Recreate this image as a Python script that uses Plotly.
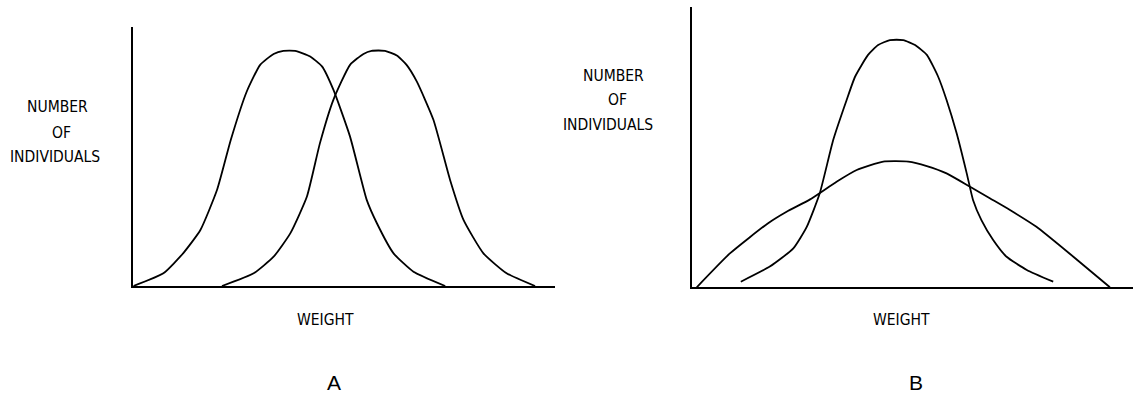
import plotly.graph_objects as go

W, H = 1133, 393

# Panel A: two shifted normal-like curves (weight units 0-100, count units 0-100)
a1_x = [0, 7.4, 12.3, 16.5, 20.6, 24.0, 27.9, 31.2, 34.5, 36.9, 39.8, 43.5, 46.4, 49.2, 53.3, 57.4, 59.9, 64.0, 68.9, 76.7]
a1_y = [0, 4.9, 12.7, 21.6, 37.1, 56.5, 75.0, 85.3, 89.5, 90.7, 90.7, 88.5, 84.7, 75.7, 57.6, 33.2, 24.2, 12.6, 5.5, 0]
a2_x = [21.8, 29.6, 34.5, 38.6, 42.7, 45.9, 49.2, 53.3, 56.6, 58.6, 61.9, 64.8, 67.2, 69.7, 73.8, 77.9, 81.2, 86.1, 91.8, 98.8]
a2_y = [0, 4.9, 11.3, 20.3, 34.5, 55.1, 71.8, 85.3, 89.5, 90.7, 90.7, 88.9, 85.3, 78.9, 64.1, 40.9, 25.5, 12.6, 4.9, 0]

# Panel B: broad and narrow curves
b_broad_x = [1.2, 9.1, 18.2, 22.6, 28.2, 34.5, 39.3, 45.6, 51.6, 56.0, 60.7, 66.3, 71.0, 75.8, 82.1, 90.9, 99.6]
b_broad_y = [0, 12.1, 22.9, 27.0, 31.4, 37.7, 41.9, 44.9, 44.9, 43.3, 40.7, 35.9, 31.8, 27.6, 21.6, 10.9, 0]
b_narrow_x = [11.7, 18.6, 24.2, 27.4, 30.5, 33.7, 36.9, 38.9, 42.0, 44.4, 47.2, 50.4, 53.2, 56.0, 58.7, 60.7, 63.1, 65.5, 67.0, 69.0, 71.8, 75.0, 79.8, 86.1]
b_narrow_y = [2.0, 7.4, 13.9, 21.6, 33.6, 52.6, 66.9, 75.2, 83.0, 86.5, 88.3, 88.3, 86.5, 83.0, 75.2, 66.9, 55.0, 40.7, 31.2, 24.0, 16.9, 10.9, 6.2, 2.0]

y_label_lines = ["NUMBER", "OF", "INDIVIDUALS"]
x_label = "WEIGHT"
panel_labels = ["A", "B"]

fig = go.Figure()
line = dict(color="black", width=1.8, shape="spline", smoothing=0.5)
for xs, ys in [(a1_x, a1_y), (a2_x, a2_y)]:
    fig.add_trace(go.Scatter(x=xs, y=ys, mode="lines", line=line, xaxis="x", yaxis="y",
                             showlegend=False, hoverinfo="skip"))
for xs, ys in [(b_broad_x, b_broad_y), (b_narrow_x, b_narrow_y)]:
    fig.add_trace(go.Scatter(x=xs, y=ys, mode="lines", line=line, xaxis="x2", yaxis="y2",
                             showlegend=False, hoverinfo="skip"))

def ax(domain, rng, anchor):
    return dict(domain=domain, range=rng, anchor=anchor, showline=True, linecolor="black",
                linewidth=2, showgrid=False, zeroline=False, showticklabels=False, ticks="",
                fixedrange=True)

fig.update_layout(
    xaxis=ax([133.3 / W, 555 / W], [0, 103.7], "y"),
    yaxis=ax([1 - 286 / H, 1 - 26.7 / H], [0, 100], "x"),
    xaxis2=ax([691.7 / W, 1133 / W], [0, 105.1], "y2"),
    yaxis2=ax([1 - 287.3 / H, 1 - 7.3 / H], [0, 100], "x2"),
)

narrow = dict(family="Liberation Sans Narrow, Arial Narrow, DejaVu Sans Condensed, sans-serif",
              size=15.5, color="black")
big = dict(family="Liberation Sans, Arial, sans-serif", size=21, color="black")

def ann(text, px, py, font):
    fig.add_annotation(text=text, x=px / W, y=1 - py / H, xref="paper", yref="paper",
                       xanchor="center", yanchor="middle", showarrow=False, font=font)

for t, px, py in zip(y_label_lines, [57.5, 61, 54.5], [107, 132.5, 156.5]):
    ann(t, px, py, narrow)
for t, px, py in zip(y_label_lines, [613.3, 617.5, 607.5], [76.3, 100, 125]):
    ann(t, px, py, narrow)
ann(x_label, 325, 319.7, narrow)
ann(x_label, 901.7, 319.7, narrow)
ann(panel_labels[0], 334.2, 382.5, big)
ann(panel_labels[1], 915.5, 382.5, big)

fig.update_layout(width=W, height=H, margin=dict(l=0, r=0, t=0, b=0),
                  plot_bgcolor="white", paper_bgcolor="white")
fig.write_html("out.html", config={"displayModeBar": False},
               post_script="document.body.style.margin='0';document.body.style.overflow='hidden';")
